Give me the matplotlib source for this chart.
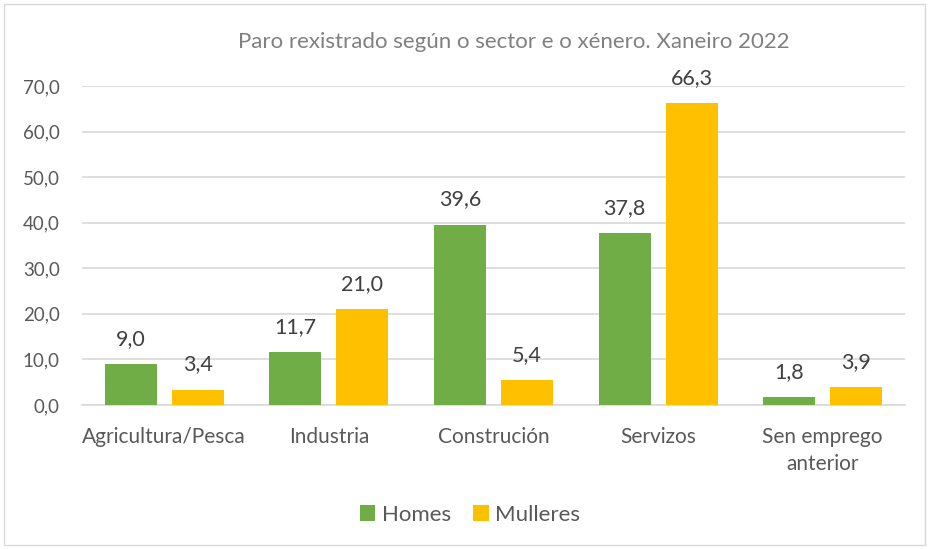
import matplotlib
matplotlib.use("Agg")
import matplotlib.pyplot as plt
from matplotlib.patches import Rectangle
import numpy as np

categories = ["Agricultura/Pesca", "Industria", "Construción", "Servizos", "Sen emprego\nanterior"]
homes = [9.0, 11.7, 39.6, 37.8, 1.8]
mulleres = [3.4, 21.0, 5.4, 66.3, 3.9]
yticks = [0, 10, 20, 30, 40, 50, 60, 70]
title = "Paro rexistrado según o sector e o xénero. Xaneiro 2022"

plt.rcParams['font.family'] = ['Lato', 'DejaVu Sans']

W, H = 931, 549
fig = plt.figure(figsize=(W/100, H/100), dpi=100)
ax = fig.add_axes([82/W, 1-405/H, (905-82)/W, (405-86)/H])

green = "#70AD47"
yellow = "#FFC000"
txt = "#595959"

x = np.arange(len(categories))
bw = 0.316
off = (bw + 0.09) / 2
ax.bar(x - off, homes, bw, color=green, label="Homes", zorder=3)
ax.bar(x + off, mulleres, bw, color=yellow, label="Mulleres", zorder=3)

for xi, v in zip(x - off, homes):
    ax.text(xi, v + 3.3, f"{v:.1f}".replace(".", ","), ha="center", va="bottom", fontsize=15.5, color="#404040")
for xi, v in zip(x + off, mulleres):
    ax.text(xi, v + 3.3, f"{v:.1f}".replace(".", ","), ha="center", va="bottom", fontsize=15.5, color="#404040")

ax.set_xlim(-0.5, len(categories) - 0.5)
ax.set_ylim(0, 70)
ax.set_yticks(yticks)
ax.set_yticklabels([f"{t:.1f}".replace(".", ",") for t in yticks], fontsize=13.5, color=txt)
ax.set_xticks(x)
ax.set_xticklabels(categories, fontsize=15, color=txt, linespacing=1.45)
ax.tick_params(length=0, axis='y', pad=16)
ax.tick_params(length=0, axis='x', pad=16)
ax.grid(axis='y', color="#D9D9D9", linewidth=1.2, zorder=0)
for s in ax.spines.values():
    s.set_visible(False)
ax.spines['bottom'].set_visible(True)
ax.spines['bottom'].set_color("#D9D9D9")
ax.spines['bottom'].set_linewidth(1.2)

fig.text(514/W, 1-42/H, title, ha="center", va="center", fontsize=16, color="#808080")

fig.legend(loc="center", bbox_to_anchor=(470/W, 1-515/H), ncol=2, frameon=False,
           fontsize=16, handlelength=0.7, handleheight=0.7, handletextpad=0.3,
           columnspacing=1.0, labelcolor=txt)

fig.patches.append(Rectangle((4/W, 4/H), (925-4)/W, (545-4)/H, transform=fig.transFigure,
                             fill=False, edgecolor="#D9D9D9", linewidth=1))

fig.savefig("out.png", dpi=100, facecolor="white")
